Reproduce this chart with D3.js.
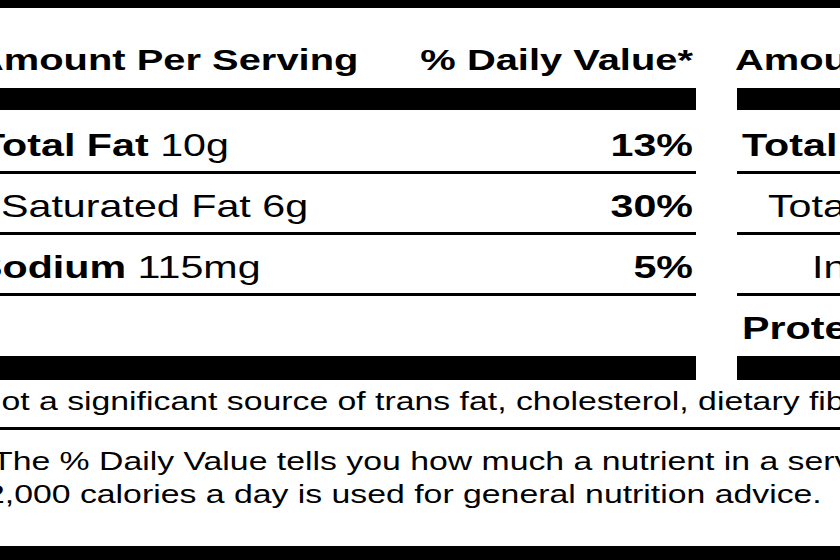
<!DOCTYPE html>
<html><head><meta charset="utf-8">
<script src="https://cdn.jsdelivr.net/npm/d3@7"></script>
<style>body{margin:0;background:#fff}svg{display:block}</style></head>
<body><svg id="c" width="840" height="560"></svg>
<script>
const nutrients = ["Total Fat", "Saturated Fat", "Sodium", ""];
const amounts = ["10g", "6g", "115mg", ""];
const bold = [true, false, true, false];
const indent = [false, true, false, false];
const dailyValues = ["13%", "30%", "5%", ""];
const rightLabels = ["Total", "Tota", "In", "Protein"];
const rightBold = [true, false, false, true];
const rightIndent = [0, 26, 70, 0];
const footnotes = ["Not a significant source of trans fat, cholesterol, dietary fiber",
  "The % Daily Value tells you how much a nutrient in a serving",
  "2,000 calories a day is used for general nutrition advice."];

const svg = d3.select("#c");
const F = "'Liberation Sans', Arial, Helvetica, sans-serif";
const SX = 1.33;
function txt(parent, x, yy, size, anchor, sx) {
  return parent.append("text").attr("transform", `translate(${x},${yy}) scale(${sx||SX},1)`)
    .attr("font-family", F).attr("font-size", size).attr("text-anchor", anchor || "start");
}
const y = d3.scaleBand().domain(d3.range(nutrients.length)).range([112, 356]);
const rh = y.bandwidth();

svg.append("rect").attr("x",0).attr("y",0).attr("width",840).attr("height",8);
svg.append("rect").attr("x",0).attr("y",546).attr("width",840).attr("height",14);

txt(svg,-25,70,30).attr("font-weight","bold").text("Amount Per Serving");
txt(svg,693,70,30,"end").attr("font-weight","bold").text("% Daily Value*");
txt(svg,735,70,30).attr("font-weight","bold").text("Amount");

[[88,22],[356,24]].forEach(([yy,h])=>{
  svg.append("rect").attr("x",0).attr("y",yy).attr("width",696).attr("height",h);
  svg.append("rect").attr("x",737).attr("y",yy).attr("width",110).attr("height",h);
});

const g = svg.selectAll("g.row").data(nutrients).join("g").attr("class","row");
g.each(function(d,i){
  const s = d3.select(this);
  const base = y(i) + rh*0.72;
  if (d) {
    const t = txt(s, indent[i] ? 1 : (i===0?-20:-25), base, 31);
    t.append("tspan").attr("font-weight", bold[i] ? "bold" : "normal").text(d + " ");
    t.append("tspan").text(amounts[i]);
    txt(s,693,base,31,"end").attr("font-weight","bold").text(dailyValues[i]);
  }
  txt(s,742+rightIndent[i],base,31).attr("font-weight", rightBold[i] ? "bold":"normal").text(rightLabels[i]);
  if (i < nutrients.length-1) {
    s.append("rect").attr("x",0).attr("y",y(i)+rh-2).attr("width",696).attr("height",3);
    s.append("rect").attr("x",737).attr("y",y(i)+rh-2).attr("width",110).attr("height",3);
  }
});

txt(svg,-23,410,26,"start",1.3).text(footnotes[0]);
svg.append("rect").attr("x",0).attr("y",427).attr("width",840).attr("height",3);
txt(svg,-8,470,26,"start",1.3).text(footnotes[1]);
txt(svg,-14,503,26,"start",1.3).text(footnotes[2]);
</script></body></html>
